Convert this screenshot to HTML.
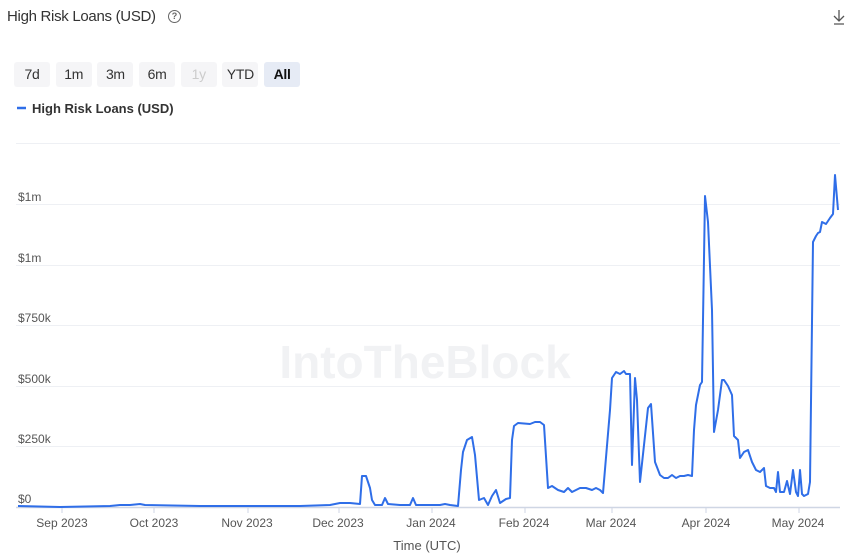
<!DOCTYPE html>
<html><head><meta charset="utf-8"><style>
body{margin:0;width:850px;height:559px;background:#fff;font-family:"Liberation Sans",sans-serif;overflow:hidden;position:relative}
.t{position:absolute;left:7px;top:8px;font-size:15px;color:#333;letter-spacing:-0.3px}
.q{position:absolute;left:168px;top:10px;width:11px;height:11px;border:1.3px solid #666;border-radius:50%;font-size:9px;color:#666;text-align:center;line-height:11px;font-weight:bold}
.btns{position:absolute;left:14px;top:62px;display:flex;gap:5.7px}
.btns div{height:25px;line-height:25px;width:36px;text-align:center;background:#f5f5f7;border-radius:3px;font-size:14px;color:#333;letter-spacing:-0.3px}
</style></head><body>
<div class="t">High Risk Loans (USD)</div><div class="q">?</div>
<div class="btns"><div>7d</div><div>1m</div><div>3m</div><div>6m</div><div style="color:#ccc">1y</div><div>YTD</div><div style="background:#e6ebf5;font-weight:bold;color:#111">All</div></div>
<svg width="850" height="559" style="position:absolute;left:0;top:0">
<path d="M839 10v11M834 16l5 5 5-5M834 24h10" stroke="#555" stroke-width="1.3" fill="none"/>
<line x1="17" y1="108" x2="26" y2="108" stroke="#2f6ee8" stroke-width="2.5"/>
<text x="32" y="113" font-size="13" font-weight="bold" fill="#333">High Risk Loans (USD)</text>
<g stroke="#eef0f4" stroke-width="1">
<line x1="16" x2="840" y1="143.5" y2="143.5"/><line x1="16" x2="840" y1="204.5" y2="204.5"/><line x1="16" x2="840" y1="265.5" y2="265.5"/><line x1="16" x2="840" y1="325.5" y2="325.5"/><line x1="16" x2="840" y1="386.5" y2="386.5"/><line x1="16" x2="840" y1="446.5" y2="446.5"/>
</g>
<text x="425" y="378" font-size="46" font-weight="bold" fill="#f1f2f4" text-anchor="middle">   IntoTheBlock</text>
<g font-size="12" fill="#555">
<text x="18" y="201">$1m</text><text x="18" y="262">$1m</text><text x="18" y="322">$750k</text><text x="18" y="383">$500k</text><text x="18" y="443">$250k</text><text x="18" y="503">$0</text>
</g>
<line x1="16" x2="840" y1="507.5" y2="507.5" stroke="#cfd6e4" stroke-width="1.5"/>
<g stroke="#cfd6e4"><line x1="62" x2="62" y1="508" y2="513"/><line x1="154" x2="154" y1="508" y2="513"/><line x1="248" x2="248" y1="508" y2="513"/><line x1="339" x2="339" y1="508" y2="513"/><line x1="432" x2="432" y1="508" y2="513"/><line x1="525" x2="525" y1="508" y2="513"/><line x1="612" x2="612" y1="508" y2="513"/><line x1="706" x2="706" y1="508" y2="513"/><line x1="799" x2="799" y1="508" y2="513"/></g>
<g font-size="12" fill="#555" text-anchor="middle">
<text x="62" y="527">Sep 2023</text><text x="154" y="527">Oct 2023</text><text x="247" y="527">Nov 2023</text><text x="338" y="527">Dec 2023</text><text x="431" y="527">Jan 2024</text><text x="524" y="527">Feb 2024</text><text x="611" y="527">Mar 2024</text><text x="706" y="527">Apr 2024</text><text x="798" y="527">May 2024</text>
<text x="427" y="550" font-size="13">Time (UTC)</text>
</g>
<polyline fill="none" stroke="#2f6ee8" stroke-width="2" stroke-linejoin="round" points="18,506 60,507 110,506 120,505 130,505 140,504 145,505 200,506 300,506 330,505 340,503 350,503 360,504 362,476 366,476 370,488 372,500 375,505 382,505 385,498 388,504 400,505 410,505 413,498 416,505 430,505 440,505 445,504 450,505 458,506 461,470 463,452 467,440 472,437 475,455 479,500 484,498 488,505 492,496 496,490 500,503 506,499 510,498 512,440 514,426 518,423 530,424 535,422 540,422 544,425 548,488 552,486 558,490 564,492 568,488 572,492 576,490 580,488 586,488 592,490 596,488 600,490 603,493 610,410 612,378 616,372 620,374 624,371 626,374 630,374 632,465 635,378 637,400 640,482 644,445 648,408 651,404 655,462 660,475 664,478 668,478 672,475 676,478 680,476 684,476 688,475 692,476 694,430 696,405 700,385 702,382 705,196 708,222 712,310 714,432 718,410 722,380 724,380 728,386 732,395 734,436 738,440 740,458 744,452 748,450 752,462 756,470 760,472 764,468 766,486 770,488 774,488 776,492 778,472 780,492 784,492 787,481 790,494 793,470 796,492 798,496 800,470 802,494 804,496 808,494 810,482 813,242 816,236 818,233 820,232 822,222 826,224 830,218 833,214 835,175 838,210"/>
</svg>
</body></html>
